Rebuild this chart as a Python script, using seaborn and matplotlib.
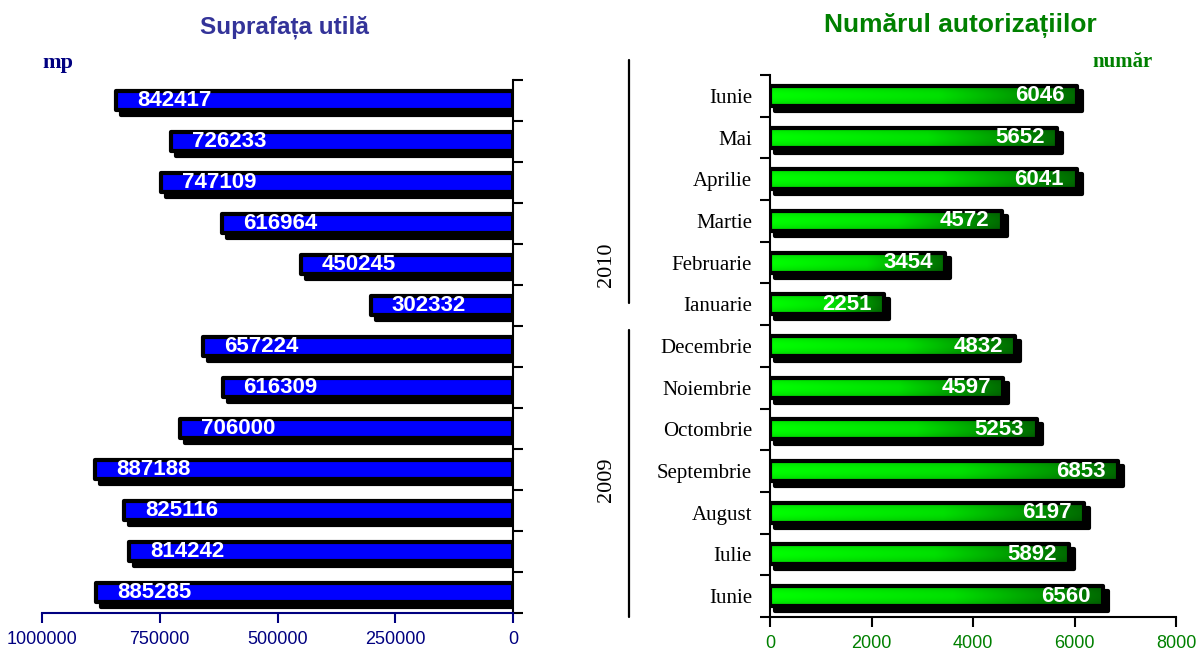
import numpy as np
import pandas as pd
import seaborn as sns
import matplotlib
matplotlib.use("Agg")
import matplotlib.pyplot as plt
import matplotlib.transforms as mtransforms
from matplotlib.lines import Line2D
from matplotlib.colors import to_rgb

# ---------------- data ----------------
months = ["Iunie", "Mai", "Aprilie", "Martie", "Februarie", "Ianuarie",
          "Decembrie", "Noiembrie", "Octombrie", "Septembrie", "August", "Iulie", "Iunie"]
years = ["2010"] * 6 + ["2009"] * 7
surface = [842417, 726233, 747109, 616964, 450245, 302332,
           657224, 616309, 706000, 887188, 825116, 814242, 885285]
permits = [6046, 5652, 6041, 4572, 3454, 2251,
           4832, 4597, 5253, 6853, 6197, 5892, 6560]
surface_ticks = [1000000, 750000, 500000, 250000, 0]
permit_ticks = [0, 2000, 4000, 6000, 8000]

keys = [f"{m} {y}" for m, y in zip(months, years)]
df = pd.DataFrame({"key": keys, "month": months, "year": years,
                   "surface": surface, "permits": permits})
n = len(df)

sns.set_theme(style="white")
plt.rcParams["font.family"] = ["Liberation Sans", "DejaVu Sans"]

fig = plt.figure(figsize=(12, 6.52), dpi=100)
axL = fig.add_axes([42 / 1200, 1 - 613 / 652, (513 - 42) / 1200, (613 - 80) / 652])
axR = fig.add_axes([770 / 1200, 1 - 617 / 652, (1176 - 770) / 1200, (617 - 75) / 652])

BAR_W = 0.48
EDGE_LW = 3.0  # points
shadow_off = mtransforms.ScaledTranslation(5 / 100, -5 / 100, fig.dpi_scale_trans)


def draw(ax, col, face):
    sns.barplot(data=df, x=col, y="key", orient="h", color="black", saturation=1,
                width=BAR_W, edgecolor="black", linewidth=EDGE_LW, errorbar=None, ax=ax)
    for p in ax.patches:
        p.set_transform(ax.transData + shadow_off)
        p.set_zorder(1)
        p.set_joinstyle("round")
    k = len(ax.patches)
    sns.barplot(data=df, x=col, y="key", orient="h", color=face, saturation=1,
                width=BAR_W, edgecolor="black", linewidth=EDGE_LW, errorbar=None, ax=ax)
    main = ax.patches[k:]
    for p in main:
        p.set_zorder(3)
        p.set_joinstyle("round")
    return main


# ---------------- left: surface ----------------
navy = "#000080"
draw(axL, "surface", "#0000ff")
axL.set_xlim(1000000, 0)
axL.set_ylim(n - 0.5, -0.5)
for i, v in enumerate(surface):
    axL.annotate(str(v), xy=(v, i), xytext=(15, 0), textcoords="offset points",
                 ha="left", va="center", color="white", fontsize=16,
                 fontweight="bold", zorder=6)
axL.set_yticks(np.arange(-0.5, n, 1))
axL.set_yticklabels([])
axL.yaxis.tick_right()
axL.set_ylabel("")
axL.set_xlabel("")
axL.set_xticks(surface_ticks)
axL.set_xticklabels([str(t) for t in surface_ticks])
axL.tick_params(axis="y", direction="out", length=7, width=1.5, color="black", right=True, left=False)
axL.tick_params(axis="x", direction="out", length=7, width=1.5, color=navy,
                labelcolor=navy, labelsize=13, pad=6, bottom=True)
for s in ["left", "top"]:
    axL.spines[s].set_visible(False)
axL.spines["right"].set_color("black")
axL.spines["right"].set_linewidth(1.5)
axL.spines["bottom"].set_color(navy)
axL.spines["bottom"].set_linewidth(1.5)

# ---------------- right: permits ----------------
green = "#008000"
main = draw(axR, "permits", "#00ff00")
# gradient fill inside the bars
ncol = 256
xs = np.linspace(0, 1, ncol)
c_bright = np.array(to_rgb("#00ff00"))
c_mid = np.array(to_rgb("#00e000"))
c_dark = np.array(to_rgb("#006a00"))
row = np.empty((ncol, 3))
for j, t in enumerate(xs):
    if t < 0.55:
        row[j] = c_bright + (c_mid - c_bright) * (t / 0.55)
    else:
        row[j] = c_mid + (c_dark - c_mid) * ((t - 0.55) / 0.45)
vert = 1 - 0.18 * np.abs(np.linspace(-1, 1, 16)) ** 2
grad = vert[:, None, None] * row[None, :, :]
for p in main:
    x0, y0 = p.get_x(), p.get_y()
    w, h = p.get_width(), p.get_height()
    axR.imshow(grad, extent=(x0, x0 + w, y0 + h, y0), aspect="auto",
               interpolation="bilinear", zorder=2)
    p.set_facecolor("none")
axR.set_xlim(0, 8000)
axR.set_ylim(n - 0.5, -0.5)
for i, v in enumerate(permits):
    axR.annotate(str(v), xy=(v, i), xytext=(-9, 0), textcoords="offset points",
                 ha="right", va="center", color="white", fontsize=16,
                 fontweight="bold", zorder=6)
axR.set_ylabel("")
axR.set_xlabel("")
axR.set_yticks(np.arange(-0.5, n, 1))
axR.set_yticklabels([])
axR.set_yticks(np.arange(n), minor=True)
axR.set_yticklabels(months, minor=True, family=["Liberation Serif", "DejaVu Serif"],
                    fontsize=15, color="black")
axR.tick_params(axis="y", which="major", direction="out", length=7, width=1.5,
                color="black", left=True)
axR.tick_params(axis="y", which="minor", length=0, pad=13, left=True)
axR.set_xticks(permit_ticks)
axR.set_xticklabels([str(t) for t in permit_ticks])
axR.tick_params(axis="x", direction="out", length=7, width=1.5, color="black",
                labelcolor=green, labelsize=13, pad=6, bottom=True)
for s in ["right", "top"]:
    axR.spines[s].set_visible(False)
for s in ["left", "bottom"]:
    axR.spines[s].set_color("black")
    axR.spines[s].set_linewidth(1.5)

# ---------------- titles & annotations ----------------
fig.text(284 / 1200, 1 - 27 / 652, "Suprafața utilă", ha="center", va="center",
         color="#333399", fontsize=17.5, fontweight="bold")
fig.text(960 / 1200, 1 - 25 / 652, "Numărul autorizațiilor", ha="center", va="center",
         color=green, fontsize=19, fontweight="bold")
fig.text(42 / 1200, 1 - 63 / 652, "mp", ha="left", va="center", color=navy,
         fontsize=16, fontweight="bold", family=["Liberation Serif", "DejaVu Serif"])
fig.text(1092 / 1200, 1 - 62 / 652, "număr", ha="left", va="center", color=green,
         fontsize=15, fontweight="bold", family=["Liberation Serif", "DejaVu Serif"])

fig.add_artist(Line2D([629 / 1200] * 2, [1 - 60 / 652, 1 - 303 / 652],
                      color="black", lw=1.6, transform=fig.transFigure))
fig.add_artist(Line2D([629 / 1200] * 2, [1 - 330 / 652, 1 - 617 / 652],
                      color="black", lw=1.6, transform=fig.transFigure))
fig.text(607 / 1200, 1 - 265 / 652, "2010", rotation=90, ha="center", va="center",
         fontsize=16, family=["Liberation Serif", "DejaVu Serif"], color="black")
fig.text(607 / 1200, 1 - 480 / 652, "2009", rotation=90, ha="center", va="center",
         fontsize=16, family=["Liberation Serif", "DejaVu Serif"], color="black")

fig.savefig("out.png", dpi=100, facecolor="white")
